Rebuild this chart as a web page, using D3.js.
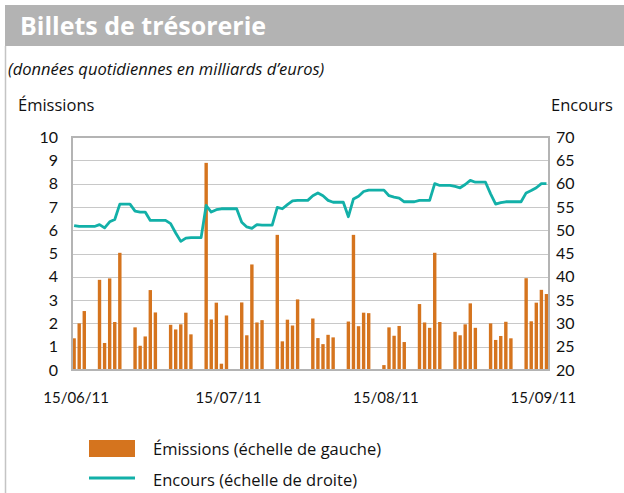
<!DOCTYPE html>
<html>
<head>
<meta charset="utf-8">
<script src="https://cdn.jsdelivr.net/npm/d3@7"></script>
<style>
  html, body { margin: 0; padding: 0; background: #fff; }
  svg { display: block; font-family: "Open Sans", Lato, sans-serif; }
</style>
</head>
<body>
<svg id="chart" width="624" height="493"></svg>
<script>
// Calendar span covered by the series (15 June 2011 to 16 September 2011, every day)
const firstDay = new Date(2011, 5, 15);
const lastDay = new Date(2011, 8, 16);

// Daily issuance, in billions of euros (null = weekend, no market)
const emissions = [
  1.36, 2.0, 2.53, null, null,
  3.87, 1.16, 3.93, 2.06, 5.03, null, null,
  1.83, 1.04, 1.44, 3.43, 2.47, null, null,
  1.94, 1.74, 1.96, 2.46, 1.53, null, null,
  8.89, 2.17, 2.89, 0.27, 2.34, null, null,
  2.9, 1.49, 4.53, 2.04, 2.14, null, null,
  5.8, 1.23, 2.16, 1.91, 3.03, null, null,
  2.21, 1.37, 1.11, 1.51, 1.4, null, null,
  2.08, 5.8, 1.88, 2.46, 2.44, null, null,
  0.21, 1.83, 1.47, 1.89, 1.2, null, null,
  2.83, 2.04, 1.81, 5.03, 2.06, null, null,
  1.64, 1.49, 1.96, 2.86, 1.81, null, null,
  2.0, 1.29, 1.46, 2.07, 1.36, null, null,
  3.94, 2.09, 2.89, 3.44, 3.26
];

// Outstanding amount, in billions of euros, one value per calendar day
const encours = [
  51.0, 50.8, 50.8, 50.8, 50.8,
  51.2, 50.5, 51.8, 52.3, 55.6, 55.6, 55.6,
  54.1, 53.9, 53.9, 52.1, 52.1, 52.1, 52.1,
  51.4, 49.4, 47.6, 48.3, 48.4, 48.4, 48.4,
  55.3, 53.9, 54.4, 54.6, 54.6, 54.6, 54.6,
  51.7, 50.7, 50.4, 51.2, 51.1, 51.1, 51.1,
  54.9, 54.6, 55.5, 56.3, 56.4, 56.4, 56.4,
  57.4, 58.0, 57.4, 56.4, 56.0, 56.0, 56.0,
  52.9, 56.7, 57.3, 58.3, 58.6, 58.6, 58.6,
  58.6, 57.4, 57.1, 56.9, 56.1, 56.1, 56.1,
  56.4, 56.4, 56.4, 60.0, 59.6, 59.6, 59.6,
  59.4, 59.1, 59.8, 60.7, 60.3, 60.3, 60.3,
  57.8, 55.6, 55.9, 56.1, 56.1, 56.1, 56.1,
  58.0, 58.5, 59.1, 60.0, 60.0
];

const xTickDates = [new Date(2011, 5, 15), new Date(2011, 6, 15), new Date(2011, 7, 15), new Date(2011, 8, 15)];
const leftTicks = [0, 1, 2, 3, 4, 5, 6, 7, 8, 9, 10];
const rightTicks = [20, 25, 30, 35, 40, 45, 50, 55, 60, 65, 70];

const title = "Billets de trésorerie";
const subtitle = "(données quotidiennes en milliards d’euros)";
const leftTitle = "Émissions";
const rightTitle = "Encours";
const legendLabels = ["Émissions (échelle de gauche)", "Encours (échelle de droite)"];

const ORANGE = "#D5741E";
const TEAL = "#12B0A8";

const days = d3.timeDay.range(firstDay, d3.timeDay.offset(lastDay, 1));
const rows = days.map((d, i) => ({ date: d, em: emissions[i], enc: encours[i] }));

const svg = d3.select("#chart");
const plot = { left: 72, right: 549, top: 137, bottom: 370 };

const x = d3.scaleTime()
  .domain([d3.timeHour.offset(firstDay, -9.5), d3.timeHour.offset(lastDay, 12)])
  .range([plot.left, plot.right]);
const yL = d3.scaleLinear().domain([0, 10]).range([plot.bottom, plot.top]);
const yR = d3.scaleLinear().domain([20, 70]).range([plot.bottom, plot.top]);

// Header band and frame
svg.append("rect").attr("x", 5).attr("y", 5).attr("width", 619).attr("height", 41).attr("fill", "#b3b3b3");
svg.append("line").attr("x1", 5.5).attr("x2", 5.5).attr("y1", 46).attr("y2", 493)
  .attr("stroke", "#c4c4c4").attr("stroke-width", 1.5);
svg.append("text").attr("x", 20).attr("y", 35).attr("fill", "#fff")
  .attr("font-size", 25).attr("font-weight", 700).text(title);
svg.append("text").attr("x", 8).attr("y", 75).attr("fill", "#111")
  .attr("font-size", 16.5).attr("font-style", "italic").text(subtitle);
svg.append("text").attr("x", 18).attr("y", 111).attr("fill", "#111")
  .attr("font-size", 16.5).text(leftTitle);
svg.append("text").attr("x", 551).attr("y", 111).attr("fill", "#111")
  .attr("font-size", 16.5).text(rightTitle);

// Horizontal gridlines
svg.append("g").selectAll("line").data(leftTicks.slice(1, -1)).join("line")
  .attr("x1", plot.left).attr("x2", plot.right)
  .attr("y1", d => Math.round(yL(d)) + 0.5).attr("y2", d => Math.round(yL(d)) + 0.5)
  .attr("stroke", "#c8c8c8").attr("stroke-width", 1.2);

// Bars
const bw = 3.4;
svg.append("g").selectAll("rect").data(rows.filter(r => r.em != null)).join("rect")
  .attr("x", d => x(d.date) - bw / 2)
  .attr("y", d => yL(d.em))
  .attr("width", bw)
  .attr("height", d => yL(0) - yL(d.em))
  .attr("fill", ORANGE);

// Plot frame
svg.append("rect").attr("x", plot.left).attr("y", plot.top)
  .attr("width", plot.right - plot.left).attr("height", plot.bottom - plot.top)
  .attr("fill", "none").attr("stroke", "#b4b4b4").attr("stroke-width", 2);

// Outstanding line
svg.append("path").datum(rows)
  .attr("d", d3.line().x(d => x(d.date)).y(d => yR(d.enc)))
  .attr("fill", "none").attr("stroke", TEAL).attr("stroke-width", 2.8)
  .attr("stroke-linejoin", "round");

// Axes
const axL = svg.append("g").attr("transform", `translate(${plot.left - 14},0)`)
  .call(d3.axisLeft(yL).tickValues(leftTicks).tickSize(0).tickPadding(0));
const axR = svg.append("g").attr("transform", `translate(${plot.right + 7},0)`)
  .call(d3.axisRight(yR).tickValues(rightTicks).tickSize(0).tickPadding(0));
const axB = svg.append("g").attr("transform", `translate(1.5,${plot.bottom + 22})`)
  .call(d3.axisBottom(x).tickValues(xTickDates).tickFormat(d3.timeFormat("%d/%m/%y")).tickSize(0).tickPadding(0));
[axL, axR, axB].forEach(a => {
  a.select(".domain").remove();
  a.selectAll("text").attr("font-size", 16).attr("fill", "#111").attr("font-family", "Lato, sans-serif");
});
axB.selectAll("text").attr("dy", "0.71em").attr("font-size", 15);

// Legend
const lg = svg.append("g");
lg.append("rect").attr("x", 89).attr("y", 440).attr("width", 46).attr("height", 17).attr("fill", ORANGE);
lg.append("line").attr("x1", 89).attr("x2", 135).attr("y1", 478).attr("y2", 478)
  .attr("stroke", TEAL).attr("stroke-width", 2.8);
lg.selectAll("text").data(legendLabels).join("text")
  .attr("x", 153).attr("y", (d, i) => 455 + i * 31)
  .attr("font-size", 16.5).attr("fill", "#111").text(d => d);
</script>
</body>
</html>
